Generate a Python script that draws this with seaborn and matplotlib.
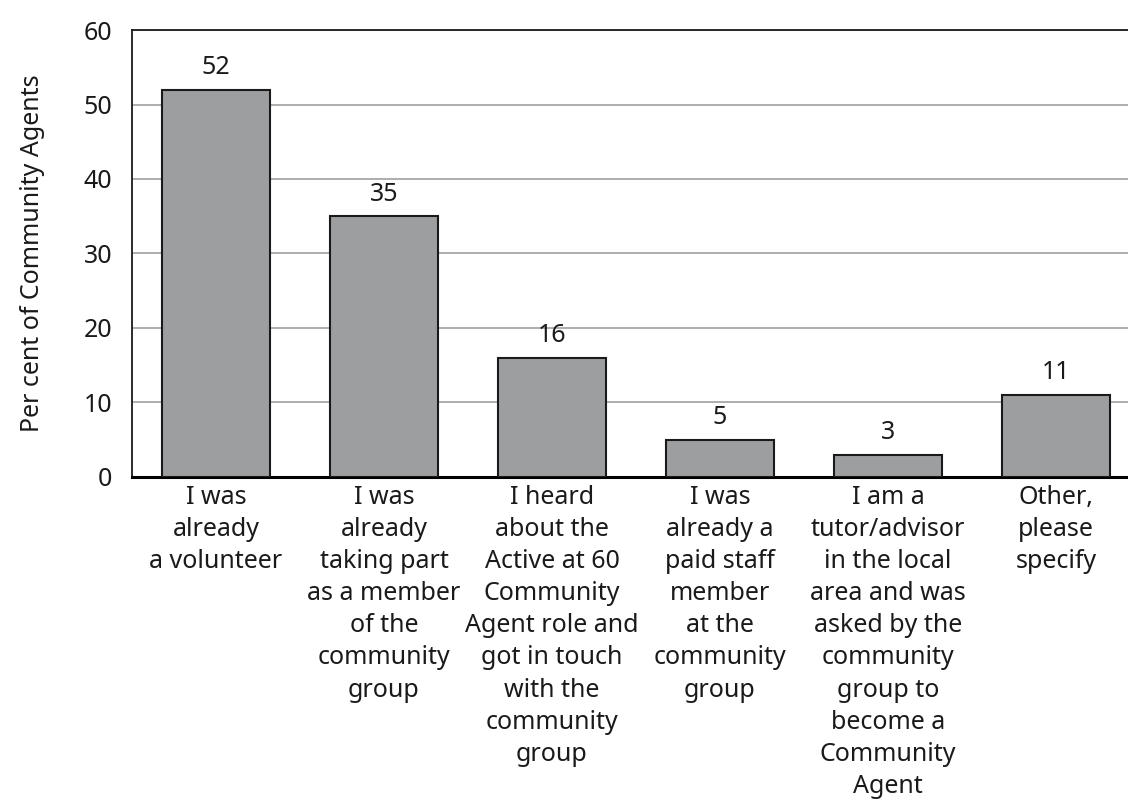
import matplotlib
matplotlib.use("Agg")
import matplotlib.pyplot as plt
import seaborn as sns
import pandas as pd

categories = [
    "I was\nalready\na volunteer",
    "I was\nalready\ntaking part\nas a member\nof the\ncommunity\ngroup",
    "I heard\nabout the\nActive at 60\nCommunity\nAgent role and\ngot in touch\nwith the\ncommunity\ngroup",
    "I was\nalready a\npaid staff\nmember\nat the\ncommunity\ngroup",
    "I am a\ntutor/advisor\nin the local\narea and was\nasked by the\ncommunity\ngroup to\nbecome a\nCommunity\nAgent",
    "Other,\nplease\nspecify",
]
values = [52, 35, 16, 5, 3, 11]
y_ticks = [0, 10, 20, 30, 40, 50, 60]

sns.set_theme(style="white")
plt.rcParams["font.family"] = ["Noto Sans", "DejaVu Sans"]

df = pd.DataFrame({"category": categories, "value": values})

fig = plt.figure(figsize=(11.28, 8), dpi=100)
ax = fig.add_axes([132 / 1128, 1 - 477 / 800, (1140 - 132) / 1128, (477 - 30) / 800])

sns.barplot(data=df, x="category", y="value", color="#9d9ea0", width=0.64,
            edgecolor="#1a1a1a", linewidth=1.5, saturation=1, ax=ax, zorder=3)

fs = 18
for i, v in enumerate(values):
    ax.text(i, v + 1.3, str(v), ha="center", va="bottom", fontsize=fs, color="#1a1a1a",
            fontweight="light")

ax.set_ylim(0, 60)
ax.set_xlim(-0.5, 5.5)
ax.set_yticks(y_ticks)
ax.yaxis.grid(True, color="#a0a0a0", linewidth=1.2, zorder=0)
ax.xaxis.grid(False)
ax.tick_params(axis="y", labelsize=fs, colors="#1a1a1a", length=0, pad=14)
ax.tick_params(axis="x", labelsize=fs, colors="#1a1a1a", length=0, pad=6)
for lbl in ax.get_xticklabels() + ax.get_yticklabels():
    lbl.set_linespacing(1.37)
    lbl.set_fontweight("light")
ax.set_xlabel("")
ax.set_ylabel("Per cent of Community Agents", fontsize=fs, color="#1a1a1a", labelpad=28,
              fontweight="light")

for s in ["top", "left", "right"]:
    ax.spines[s].set_color("#1a1a1a")
    ax.spines[s].set_linewidth(1.3)
ax.spines["bottom"].set_color("#000000")
ax.spines["bottom"].set_linewidth(2.2)

fig.savefig("out.png", dpi=100)
